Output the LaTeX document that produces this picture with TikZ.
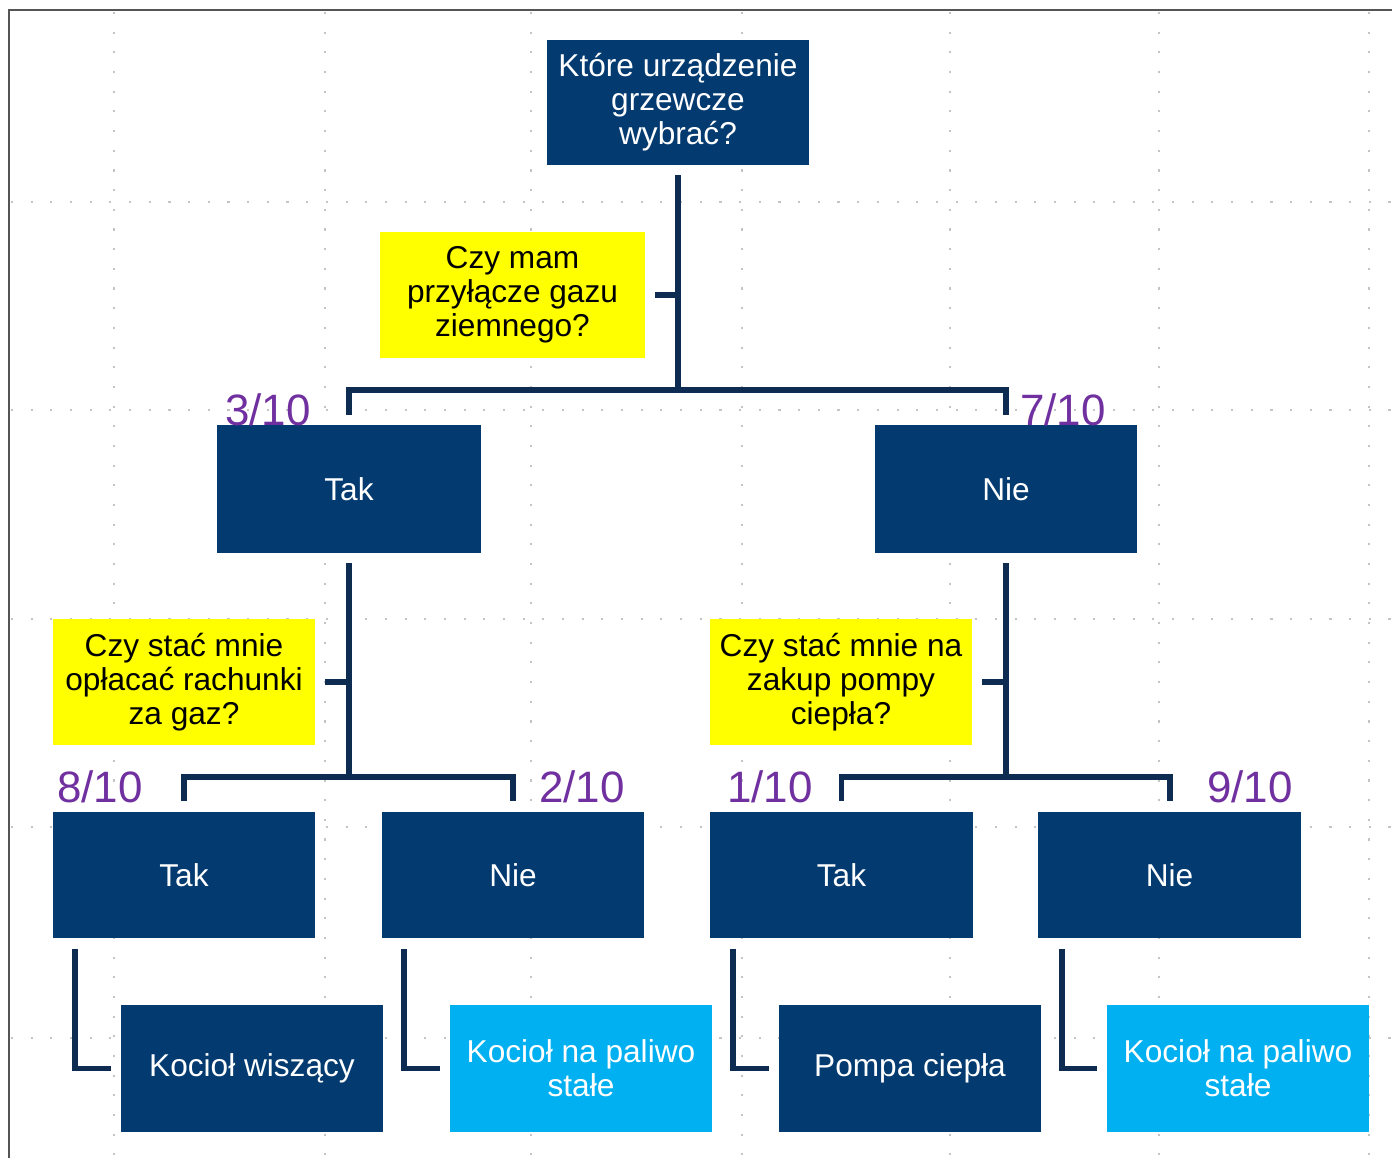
\documentclass[tikz,border=0pt]{standalone}
\usepackage{fontspec}
\setmainfont{Liberation Sans}
\definecolor{navy}{HTML}{033A70}
\definecolor{linec}{HTML}{0E2C52}
\definecolor{sky}{HTML}{00B0F0}
\definecolor{qyel}{HTML}{FFFF00}
\definecolor{fraccol}{HTML}{7030A0}
\definecolor{gridc}{HTML}{C4C4C4}
\definecolor{framec}{HTML}{555555}
\begin{document}
\begin{tikzpicture}[x=0.02cm,y=-0.02cm,
  basebox/.style={rectangle, inner sep=0pt, align=center, minimum width=5.26cm, minimum height=2.54cm, font=\fontsize{18}{19.3}\selectfont},
  navybox/.style={basebox, fill=navy, text=white},
  skybox/.style={basebox, fill=sky, text=white},
  qbox/.style={basebox, fill=qyel, text=black},
  conn/.style={draw=linec, line width=3.4pt, line join=miter},
  fraclab/.style={text=fraccol, inner sep=0pt, font=\fontsize{25}{26}\selectfont},
  gridline/.style={draw=gridc, line width=1.1pt, dash pattern=on 1.2pt off 10pt}
]
\useasboundingbox (0,0) rectangle (1392,1158);
\fill[white] (0,0) rectangle (1392,1158);
% background grid
\foreach \gx in {114,325,531,742,950,1159,1369}
  \draw[gridline] (\gx,12) -- (\gx,1158);
\foreach \gy in {202,410,619,827,1038}
  \draw[gridline] (11,\gy) -- (1392,\gy);
% frame
\draw[framec, line width=0.9pt] (9,1158) -- (9,10) -- (1392,10);

% nodes
\node[navybox, minimum width=5.24cm, minimum height=2.5cm] (top) at (678,102.5) {Które urządzenie\\grzewcze\\wybrać?};
\node[qbox, minimum width=5.3cm, minimum height=2.52cm] (q1) at (512.5,295) {Czy mam\\przyłącze gazu\\ziemnego?};
\node[navybox, minimum width=5.28cm, minimum height=2.56cm] (tak1) at (349,489) {Tak};
\node[navybox, minimum width=5.24cm, minimum height=2.56cm] (nie1) at (1006,489) {Nie};
\node[qbox, minimum width=5.24cm, minimum height=2.52cm] (q2) at (184,682) {Czy stać mnie\\opłacać rachunki\\za gaz?};
\node[qbox, minimum width=5.24cm, minimum height=2.52cm] (q3) at (841,682) {Czy stać mnie na\\zakup pompy\\ciepła?};
\node[navybox] (tak2) at (184,875) {Tak};
\node[navybox] (nie2) at (513,875) {Nie};
\node[navybox] (tak3) at (841.5,875) {Tak};
\node[navybox] (nie3) at (1169.5,875) {Nie};
\node[navybox] (b1) at (252,1068.5) {Kocioł wiszący};
\node[skybox] (b2) at (581,1068.5) {Kocioł na paliwo\\stałe};
\node[navybox] (b3) at (910,1068.5) {Pompa ciepła};
\node[skybox] (b4) at (1238,1068.5) {Kocioł na paliwo\\stałe};

% fraction labels
\node[fraclab] (f1) at (268,410) {3/10};
\node[fraclab] (f2) at (1063,410) {7/10};
\node[fraclab] (f3) at (100,787) {8/10};
\node[fraclab] (f4) at (582,787) {2/10};
\node[fraclab] (f5) at (770,787) {1/10};
\node[fraclab] (f6) at (1250,787) {9/10};

% connectors
\coordinate (j1) at (678,390);
\coordinate (j2) at (349,777);
\coordinate (j3) at (1006,777);
\draw[conn] ([shift={(0,10)}]top.south) -- (j1);
\draw[conn] ([shift={(0,-10)}]tak1.north) |- (j1) -| ([shift={(0,-10)}]nie1.north);
\draw[conn] ([shift={(10,0)}]q1.east) -- (q1.east -| j1);

\draw[conn] ([shift={(0,10)}]tak1.south) -- (j2);
\draw[conn] ([shift={(0,-10)}]tak2.north) |- (j2) -| ([shift={(0,-10)}]nie2.north);
\draw[conn] ([shift={(10,0)}]q2.east) -- (q2.east -| j2);

\draw[conn] ([shift={(0,10)}]nie1.south) -- (j3);
\draw[conn] ([shift={(0,-10)}]tak3.north) |- (j3) -| ([shift={(0,-10)}]nie3.north);
\draw[conn] ([shift={(10,0)}]q3.east) -- (q3.east -| j3);

\draw[conn] ([shift={(23,10)}]tak2.south west) |- ([shift={(-9,0)}]b1.west);
\draw[conn] ([shift={(23,10)}]nie2.south west) |- ([shift={(-9,0)}]b2.west);
\draw[conn] ([shift={(23,10)}]tak3.south west) |- ([shift={(-9,0)}]b3.west);
\draw[conn] ([shift={(24,10)}]nie3.south west) |- ([shift={(-9,0)}]b4.west);
\end{tikzpicture}
\end{document}
